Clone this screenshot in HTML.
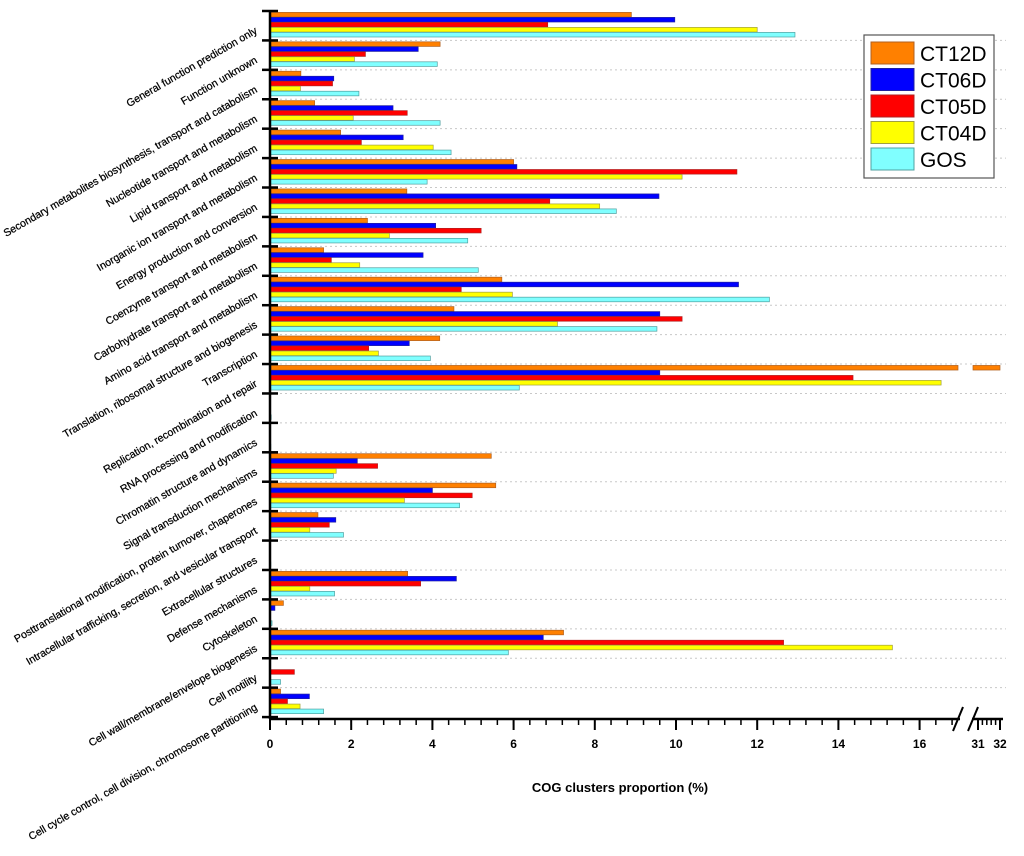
<!DOCTYPE html>
<html><head><meta charset="utf-8"><style>
html,body{margin:0;padding:0;background:#fff;}
svg{display:block;font-family:"Liberation Sans",Arial,sans-serif;}
</style></head><body>
<svg id="chart" width="1024" height="856" viewBox="0 0 1024 856" xmlns="http://www.w3.org/2000/svg">
<g id="grid"></g><g id="bars"></g><g id="axes"></g><g id="labels"></g>
<g id="legend"></g>
<text x="620" y="792" font-size="13" font-weight="bold" text-anchor="middle">COG clusters proportion (%)</text>
</svg>
<script>
const categories = ["General function prediction only","Function unknown","Secondary metabolites biosynthesis, transport and catabolism","Nucleotide transport and metabolism","Lipid transport and metabolism","Inorganic ion transport and metabolism","Energy production and conversion","Coenzyme transport and metabolism","Carbohydrate transport and metabolism","Amino acid transport and metabolism","Translation, ribosomal structure and biogenesis","Transcription","Replication, recombination and repair","RNA processing and modification","Chromatin structure and dynamics","Signal transduction mechanisms","Posttranslational modification, protein turnover, chaperones","Intracellular trafficking, secretion, and vesicular transport","Extracellular structures","Defense mechanisms","Cytoskeleton","Cell wall/membrane/envelope biogenesis","Cell motility","Cell cycle control, cell division, chromosome partitioning"];
const seriesNames = ["CT12D","CT06D","CT05D","CT04D","GOS"];
const ct12d = [8.9,4.19,0.76,1.1,1.74,6.0,3.37,2.4,1.32,5.71,4.53,4.18,32,0,0,5.45,5.56,1.18,0,3.39,0.33,7.23,0,0.26];
const ct06d = [9.97,3.65,1.57,3.03,3.28,6.08,9.58,4.08,3.77,11.54,9.6,3.43,9.6,0,0,2.15,4.0,1.62,0,4.59,0.12,6.73,0,0.97];
const ct05d = [6.84,2.35,1.54,3.38,2.25,11.5,6.89,5.2,1.51,4.71,10.15,2.43,14.36,0,0,2.65,4.98,1.46,0,3.71,0,12.65,0.6,0.43];
const ct04d = [12.0,2.08,0.75,2.05,4.02,10.15,8.12,2.94,2.21,5.97,7.08,2.67,16.53,0,0,1.63,3.31,0.98,0,0.98,0,15.33,0,0.74];
const gos = [12.93,4.12,2.19,4.19,4.46,3.87,8.53,4.87,5.13,12.3,9.53,3.95,6.14,0.03,0.02,1.56,4.67,1.81,0.02,1.59,0.05,5.87,0.26,1.32];
const xTicks = [0,2,4,6,8,10,12,14,16];
const xTicksUpper = [31,32];

const NS="http://www.w3.org/2000/svg";
const X0=270, PPU=40.6, BR1=958, BR2=972, Y0=11, GH=29.42, AXY=719;
const fills=["#ff8000","#0000ff","#ff0000","#ffff00","#80ffff"];
const strokes=["#b06020","#2020a0","#b02020","#a0a040","#50a0a0"];
const series=[ct12d,ct06d,ct05d,ct04d,gos];
function xs(v){ return v<=17 ? X0+v*PPU : 978+(v-31)*22; }
function yg(i){ return Y0+i*GH; }
function mk(tag,attrs,parent){const e=document.createElementNS(NS,tag);for(const k in attrs)e.setAttribute(k,attrs[k]);parent.appendChild(e);return e;}
const grid=document.getElementById('grid'),bars=document.getElementById('bars'),axes=document.getElementById('axes'),labels=document.getElementById('labels'),legend=document.getElementById('legend');

for(let i=1;i<categories.length;i++){
  const l=mk('line',{x1:X0,x2:1006,y1:yg(i),y2:yg(i),stroke:'#c8c8c8','stroke-width':1,'stroke-dasharray':'2,3'},grid);
  
  
}
categories.forEach((c,i)=>{
  series.forEach((s,k)=>{
    const v=s[i]; if(v<=0) return;
    const y=yg(i)+1.4+k*5, h=4.6;
    if(v>17){
      const r1=mk('rect',{x:X0,y:y,width:BR1-X0,height:h,fill:fills[k],stroke:strokes[k],'stroke-width':0.7},bars);
      
      
      const r2=mk('rect',{x:BR2+1,y:y,width:xs(v)-BR2-1,height:h,fill:fills[k],stroke:strokes[k],'stroke-width':0.7},bars);
      
      
    } else {
      const r=mk('rect',{x:X0,y:y,width:Math.max(0.8,xs(v)-X0),height:h,fill:fills[k],stroke:strokes[k],'stroke-width':0.7},bars);
      
      
    }
  });
  const cy=yg(i)+GH/2;
  const ax=258, ay=cy+7;
  const t=mk('text',{x:ax,y:ay,'font-size':10.6,'text-anchor':'end',fill:'#000',stroke:'#000','stroke-width':0.25,transform:`rotate(-30 ${ax} ${ay})`},labels);
  t.textContent=c;
  
  
});
// y axis
const ya=mk('line',{x1:X0,x2:X0,y1:Y0,y2:AXY,stroke:'#000','stroke-width':2.5},axes);


for(let i=0;i<=categories.length;i++){
  const yy=Math.min(yg(i),AXY);
  const tk=mk('line',{x1:X0-8,x2:X0+8,y1:yy,y2:yy,stroke:'#000','stroke-width':2.5},axes);
  
  
}
// x axis
const xa=mk('line',{x1:X0,x2:BR1+2,y1:AXY,y2:AXY,stroke:'#000','stroke-width':2.5},axes);


const xa2=mk('line',{x1:BR2,x2:1003,y1:AXY,y2:AXY,stroke:'#000','stroke-width':2.5},axes);


for(let v=0.4;v<17.2;v+=0.4){
  if(xs(v)>BR1-2) break;
  const m=mk('line',{x1:xs(v),x2:xs(v),y1:AXY,y2:AXY+6,stroke:'#000','stroke-width':1.5},axes);
  
  
}
for(let v=31.2;v<32;v+=0.2){
  const m=mk('line',{x1:xs(v),x2:xs(v),y1:AXY,y2:AXY+6,stroke:'#000','stroke-width':1.5},axes);
  
  
}
xTicks.concat(xTicksUpper).forEach(v=>{
  const m=mk('line',{x1:xs(v),x2:xs(v),y1:AXY,y2:AXY+11,stroke:'#000','stroke-width':2},axes);
  
  
  const t=mk('text',{x:xs(v),y:AXY+29,'font-size':12,'font-weight':'bold','text-anchor':'middle'},axes);
  t.textContent=v;
  
  
});
[[BR1-5,BR1+5],[BR2-4,BR2+6]].forEach(p=>{
  const s=mk('line',{x1:p[0],y1:AXY+12,x2:p[1],y2:AXY-12,stroke:'#000','stroke-width':2},axes);
  
  
});
// legend
const lb=mk('rect',{x:864,y:35,width:130,height:143,fill:'#fff',stroke:'#555','stroke-width':1.2},legend);


seriesNames.forEach((n,k)=>{
  const y=42+k*26.5;
  const sw=mk('rect',{x:871,y:y,width:43,height:22,fill:fills[k],stroke:strokes[k],'stroke-width':1},legend);
  
  
  const t=mk('text',{x:920,y:y+19,'font-size':21},legend);
  t.textContent=n;
  
  
});
</script>
</body></html>
